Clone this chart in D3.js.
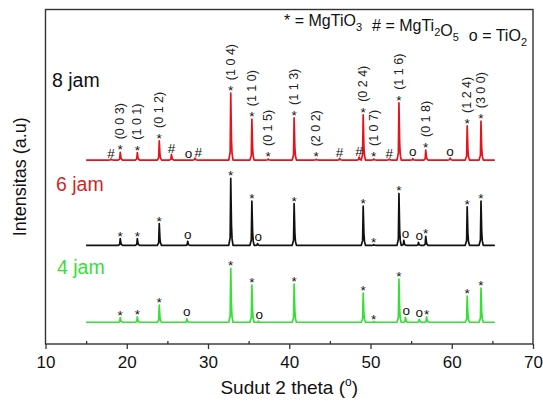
<!DOCTYPE html>
<html>
<head>
<meta charset="utf-8">
<script src="https://cdn.jsdelivr.net/npm/d3@7"></script>
<style>
  body { margin: 0; background: #fff; }
  text { font-family: Arial, "Liberation Sans", sans-serif; }
</style>
</head>
<body>
<div id="chart"></div>
<script>
// scan range (2 theta, degrees)
const scanRange = [15, 65.3];
const xTicks = [10, 20, 30, 40, 50, 60, 70];
const xMinorTicks = [15, 25, 35, 45, 55, 65];

// series names, colours and vertical offsets (a.u.)
const seriesNames = ["8 jam", "6 jam", "4 jam"];
const seriesColors = ["#e3141b", "#111111", "#36e036"];
const labelColors = ["#111111", "#d81f1f", "#36e036"];
const seriesOffsets = [550, 295, 65];

// peaks: [2 theta, intensity above baseline]
const peaks8 = [
  [18.06, 3], [19.2, 23], [21.3, 22], [24.0, 57], [25.5, 17], [28.4, 6],
  [32.8, 200], [35.4, 122], [37.4, 3], [40.6, 126], [43.3, 2], [46.2, 5],
  [48.6, 9], [49.1, 135], [50.4, 3], [52.3, 3], [53.5, 171], [55.2, 4],
  [56.8, 30], [59.8, 6], [61.9, 102], [63.6, 116]
];
const peaks6 = [
  [19.2, 20], [21.3, 20], [24.0, 65], [27.5, 12], [32.8, 200], [35.4, 132],
  [36.1, 5], [40.6, 125], [49.1, 117], [50.4, 2], [53.5, 155], [54.1, 15],
  [55.9, 9], [56.8, 27], [61.9, 115], [63.6, 132]
];
const peaks4 = [
  [19.2, 14], [21.3, 16], [24.0, 51], [27.4, 10], [32.8, 161], [35.4, 111],
  [36.2, 3], [40.6, 114], [49.1, 87], [50.4, 2], [53.5, 129], [54.3, 15],
  [56.0, 9], [56.9, 16], [61.9, 78], [63.6, 102]
];

// phase markers: [2 theta, symbol, hkl]
const marks8 = [
  [18.06, "#", ""], [19.2, "*", "(0 0 3)"], [21.3, "*", "(1 0 1)"], [24.0, "*", "(0 1 2)"],
  [25.5, "#", ""], [27.6, "o", ""], [28.8, "#", ""], [32.8, "*", "(1 0 4)"],
  [35.4, "*", "(1 1 0)"], [37.4, "*", "(0 1 5)"], [40.6, "*", "(1 1 3)"], [43.3, "*", "(2 0 2)"],
  [46.2, "#", ""], [48.6, "#", ""], [49.1, "*", "(0 2 4)"], [50.4, "*", "(1 0 7)"],
  [52.3, "#", ""], [53.5, "*", "(1 1 6)"], [55.2, "o", ""], [56.8, "*", "(0 1 8)"],
  [59.8, "o", ""], [61.9, "*", "(1 2 4)"], [63.6, "*", "(3 0 0)"]
];
const marks6 = [
  [19.2, "*"], [21.3, "*"], [24.0, "*"], [27.5, "o"], [32.8, "*"], [35.4, "*"],
  [36.2, "o"], [40.6, "*"], [49.1, "*"], [50.4, "*"], [53.5, "*"], [54.3, "o"],
  [56.0, "o"], [56.8, "*"], [61.9, "*"], [63.6, "*"]
];
const marks4 = [
  [19.2, "*"], [21.3, "*"], [24.0, "*"], [27.4, "o"], [32.8, "*"], [35.4, "*"],
  [36.3, "o"], [40.6, "*"], [49.1, "*"], [50.4, "*"], [53.5, "*"], [54.4, "o"],
  [56.0, "o"], [56.9, "*"], [61.9, "*"], [63.6, "*"]
];

const legendSymbols = ["*", "#", "o"];
const legendPhases = ["MgTiO3", "MgTi2O5", "TiO2"];

const width = 543, height = 401;
const margin = { top: 9.5, right: 10, bottom: 57, left: 45.5 };
const plotW = width - margin.left - margin.right;
const plotH = height - margin.top - margin.bottom;

const svg = d3.select("#chart").append("svg")
  .attr("width", width).attr("height", height);

const x = d3.scaleLinear().domain([10, 70]).range([0, plotW]);
const y = d3.scaleLinear().domain([0, 1000]).range([plotH, 0]);

const graph = svg.append("g")
  .attr("transform", `translate(${margin.left}, ${margin.top})`);

// build a profile from peak list
const profile = (peaks) => {
  const pts = [[scanRange[0], 0]];
  peaks.forEach(([p, h]) => {
    pts.push([p - 0.24, 0], [p - 0.07, 0.12 * h], [p, h],
             [p + 0.09, 0.3 * h], [p + 0.16, 0.1 * h], [p + 0.28, 0]);
  });
  pts.push([scanRange[1], 0]);
  return pts;
};

const allPeaks = [peaks8, peaks6, peaks4];
const allMarks = [marks8, marks6, marks4];

const symShift = { "*": 8, "#": 4.8, "o": 3.5 };

allPeaks.forEach((peaks, i) => {
  const off = seriesOffsets[i];
  const line = d3.line()
    .x(d => x(d[0]))
    .y(d => y(off + d[1]));

  graph.append("path")
    .datum(profile(peaks))
    .attr("fill", "none")
    .attr("stroke", seriesColors[i])
    .attr("stroke-width", 1.7)
    .attr("stroke-linejoin", "round")
    .attr("d", line);

  const localTop = (pos) => {
    const near = peaks.filter(p => Math.abs(p[0] - pos) < 0.45);
    return near.length ? d3.max(near, p => p[1]) : 0;
  };

  const marks = graph.append("g");
  allMarks[i].forEach(m => {
    const cx = x(m[0]);
    const cy = y(off + localTop(m[0])) - 6;
    marks.append("text")
      .attr("x", cx)
      .attr("y", cy + symShift[m[1]])
      .attr("text-anchor", "middle")
      .attr("font-size", 13.5)
      .attr("fill", "#111")
      .text(m[1]);
    if (m[2]) {
      marks.append("text")
        .attr("transform", `translate(${cx}, ${cy - 7}) rotate(-90)`)
        .attr("dominant-baseline", "central")
        .attr("font-size", 12.5)
        .attr("fill", "#222")
        .text(m[2]);
    }
  });
});

// series labels
const labelPos = [[52, 87], [56, 191], [57, 274]];
seriesNames.forEach((n, i) => {
  svg.append("text")
    .attr("x", labelPos[i][0]).attr("y", labelPos[i][1])
    .attr("font-size", 19.5)
    .attr("fill", labelColors[i])
    .text(n);
});

// axes
const xAxis = d3.axisBottom(x).tickValues(xTicks).tickSize(5).tickPadding(7);
const xAxisMinor = d3.axisBottom(x).tickValues(xMinorTicks).tickSize(-3).tickFormat("");

const xg = graph.append("g").attr("transform", `translate(0, ${plotH})`).call(xAxis);
xg.select(".domain").remove();
xg.selectAll("line").attr("stroke", "#333").attr("stroke-width", 1.3);
xg.selectAll("text").attr("font-size", 17).attr("fill", "#111")
  .style("font-family", "Arial, 'Liberation Sans', sans-serif");

const xm = graph.append("g").attr("transform", `translate(0, ${plotH})`).call(xAxisMinor);
xm.select(".domain").remove();
xm.selectAll("line").attr("stroke", "#333").attr("stroke-width", 1.3);

// frame
graph.append("rect")
  .attr("width", plotW).attr("height", plotH)
  .attr("fill", "none").attr("stroke", "#333").attr("stroke-width", 1.4);

// legend
const legend = svg.append("text")
  .attr("x", 527).attr("y", 26)
  .attr("text-anchor", "end")
  .attr("font-size", 16)
  .attr("fill", "#111");
legendPhases.forEach((ph, i) => {
  legend.append("tspan").attr("dx", i ? 10 : 0).text(legendSymbols[i] + " = ");
  ph.split(/(\d)/).filter(s => s).forEach(s => {
    if (/\d/.test(s)) {
      legend.append("tspan").attr("dy", 5).attr("font-size", 11).text(s);
      legend.append("tspan").attr("dy", -5).text("");
    } else {
      legend.append("tspan").text(s);
    }
  });
});

// axis titles
const xt = svg.append("text")
  .attr("x", margin.left + plotW / 2).attr("y", 394)
  .attr("text-anchor", "middle")
  .attr("font-size", 19)
  .attr("fill", "#111");
xt.append("tspan").text("Sudut 2 theta (");
xt.append("tspan").attr("dy", -8).attr("font-size", 12).text("o");
xt.append("tspan").attr("dy", 8).text(")");

svg.append("text")
  .attr("transform", `translate(20, ${margin.top + plotH / 2}) rotate(-90)`)
  .attr("text-anchor", "middle")
  .attr("dominant-baseline", "central")
  .attr("font-size", 18)
  .attr("fill", "#111")
  .text("Intensitas (a.u)");
</script>
</body>
</html>
